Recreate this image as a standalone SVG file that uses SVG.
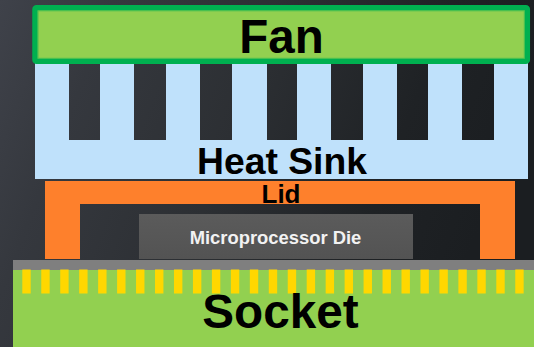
<svg xmlns="http://www.w3.org/2000/svg" width="534" height="347" viewBox="0 0 534 347">
<style>
.t{font-family:"Liberation Sans",Arial,sans-serif;font-weight:bold;text-anchor:middle;fill:#000}
.pin{fill:#ffd700;width:8.4px;height:24px;y:269.5px}
</style>
<defs>
<linearGradient id="bg" x1="0" y1="0" x2="1" y2="0.25">
<stop offset="0" stop-color="#3f424a"/><stop offset="0.2" stop-color="#35383e"/><stop offset="0.5" stop-color="#2c2f33"/><stop offset="0.8" stop-color="#1f2225"/><stop offset="1" stop-color="#1b1e21"/>
</linearGradient>
<linearGradient id="die" x1="0" y1="0" x2="0" y2="1"><stop offset="0" stop-color="#5b5b5b"/><stop offset="1" stop-color="#535353"/></linearGradient>
</defs>
<rect id="background" width="534" height="347" fill="url(#bg)"/>
<g id="heat-sink">
<path fill="#bfe1fb" fill-rule="evenodd" d="M35 62H528V179H35Z M69 62V140H100V62Z M134 62V140H166V62Z M200 62V140H232V62Z M267 62V140H297V62Z M331 62V140H363V62Z M397 62V140H428V62Z M462 62V140H494V62Z"/>
<text class="t" x="282" y="174" font-size="37.300">Heat Sink</text>
</g>
<g id="fan">
<rect x="35" y="7.800" width="492.300" height="53.500" rx="1.500" fill="#92d050" stroke="#00b050" stroke-width="5.500"/>
<rect x="38" y="10.800" width="486.300" height="47.500" fill="none" stroke="#49c050" stroke-width="1"/>
<text class="t" x="281.500" y="52.700" font-size="47.500">Fan</text>
</g>
<g id="lid">
<path fill="#fe802c" d="M45 181H515V259H480V204H80V259H45Z"/>
<text class="t" x="281" y="203" font-size="26">Lid</text>
</g>
<g id="die-node">
<rect x="139" y="214" width="274" height="45" fill="url(#die)"/>
<text x="275.500" y="244" font-size="18.400" class="t" style="fill:#f2f2f2">Microprocessor Die</text>
</g>
<g id="socket">
<rect x="13" y="270" width="521" height="77" fill="#92d050"/>
<rect x="13" y="260" width="521" height="10" fill="#7f7f7f"/>
<g id="pins">
<rect class="pin" x="22.300"/><rect class="pin" x="41.260"/><rect class="pin" x="60.220"/><rect class="pin" x="79.180"/><rect class="pin" x="98.140"/><rect class="pin" x="117.100"/><rect class="pin" x="136.060"/><rect class="pin" x="155.020"/><rect class="pin" x="173.980"/><rect class="pin" x="192.940"/><rect class="pin" x="211.900"/><rect class="pin" x="230.860"/><rect class="pin" x="249.820"/><rect class="pin" x="268.780"/><rect class="pin" x="287.740"/><rect class="pin" x="306.700"/><rect class="pin" x="325.660"/><rect class="pin" x="344.620"/><rect class="pin" x="363.580"/><rect class="pin" x="382.540"/><rect class="pin" x="401.500"/><rect class="pin" x="420.460"/><rect class="pin" x="439.420"/><rect class="pin" x="458.380"/><rect class="pin" x="477.340"/><rect class="pin" x="496.300"/><rect class="pin" x="515.260"/>
</g>
<text class="t" x="280.500" y="328" font-size="47.700">Socket</text>
</g>
</svg>
